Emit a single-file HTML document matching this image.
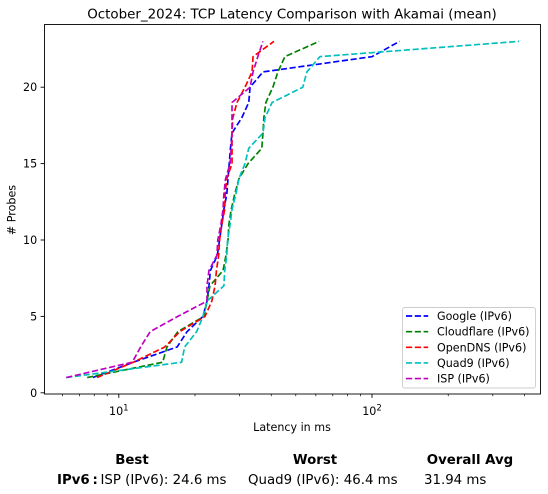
<!DOCTYPE html>
<html lang="en">
<head>
<meta charset="utf-8">
<title>October_2024: TCP Latency Comparison with Akamai (mean)</title>
<style>
html,body{margin:0;padding:0;background:#fff;}
svg{display:block;font-family:"DejaVu Sans","Liberation Sans",sans-serif;fill:#000;}
</style>
</head>
<body>
<svg id="chart" xmlns="http://www.w3.org/2000/svg" width="548" height="494" viewBox="0 0 548 494">
  <rect width="548" height="494" fill="#fff"/>
  <text x="292" y="18.5" text-anchor="middle" font-size="13.42">October_2024: TCP Latency Comparison with Akamai (mean)</text>
  <g id="series-layer"></g>
  <g id="axis-layer"></g>
  <rect x="44.5" y="24.5" width="496" height="369.5" fill="none" stroke="#000" stroke-width="0.9"/>
  <text x="292" y="431" text-anchor="middle" font-size="11.11">Latency in ms</text>
  <text transform="translate(15.5 210) rotate(-90)" text-anchor="middle" font-size="11.11"># Probes</text>
  <g id="legend-layer">
    <rect x="402.5" y="307.5" width="133" height="80.5" rx="2.2" fill="#fff" fill-opacity="0.8" stroke="#ccc" stroke-width="0.9"/>
  </g>
  <g font-size="13.33">
    <text x="132" y="464" text-anchor="middle" font-weight="bold">Best</text>
    <text x="315" y="464" text-anchor="middle" font-weight="bold">Worst</text>
    <text x="470" y="464" text-anchor="middle" font-weight="bold">Overall Avg</text>
    <text x="57" y="484" font-weight="bold">IPv6</text>
    <text x="92.5" y="484" font-weight="bold">:</text>
    <text x="100.5" y="484">ISP (IPv6): 24.6 ms</text>
    <text x="248" y="484">Quad9 (IPv6): 46.4 ms</text>
    <text x="424" y="484">31.94 ms</text>
  </g>
</svg>
<script>
const probeCounts = [1,2,3,4,5,6,7,8,9,10,11,12,13,14,15,16,17,18,19,20,21,22,23];
const googleValues = [7.9,11.4,17,18.6,21.5,22.3,22.7,23,24.5,25,25.5,26,26.7,27,27.3,27.6,28,30.6,32.6,33,37.1,100,128.5];
const cloudflareValues = [7.5,14.9,15.5,17.1,21.7,22.3,22.9,25.8,26.5,27,27.2,27.8,28.7,29.8,32.4,36.7,37.1,37.4,38.1,40.6,42.5,45.3,61.8];
const openDnsValues = [8.2,11.4,15.2,17.4,21.9,23.3,24,24.3,24.8,25,25.5,26.2,26.3,26.7,28,28,28,28.2,29.3,31.5,33.6,33.9,41];
const quad9Values = [6.2,17.7,18.2,20.3,21.5,22.3,26,26.2,26.7,26.9,27.5,28,29,29.8,31.5,32.6,37.1,37.8,40.3,53.3,55.3,62.3,381];
const ispValues = [6.2,11.3,12.2,13.3,17.1,22.3,22.3,22.7,24.4,24.6,25.3,25.8,26,26.4,27.5,27.8,28,28,28,33,33.9,35.4,37.1];
const seriesNames = ["Google (IPv6)","Cloudflare (IPv6)","OpenDNS (IPv6)","Quad9 (IPv6)","ISP (IPv6)"];
const seriesSlugs = ["google","cloudflare","opendns","quad9","isp"];
const seriesValues = [googleValues,cloudflareValues,openDnsValues,quad9Values,ispValues];
const seriesColors = ["#0000ff","#008000","#ff0000","#00bfbf","#bf00bf"];
const yTicks = [0,5,10,15,20];
const xMajorTicks = [10,100];
const xMajorExponents = ["1","2"];
const xMinorTicks = [6,7,8,9,20,30,40,50,60,70,80,90,200,300,400];

const NS = "http://www.w3.org/2000/svg";
function xScale(v){ return 118.8 + 253.2 * Math.log10(v / 10); }
function yScale(v){ return 392.8 - 15.28 * v; }
function make(tag, parent, attrs){
  const el = document.createElementNS(NS, tag);
  for (const k in attrs) el.setAttribute(k, attrs[k]);
  parent.appendChild(el);
  return el;
}
const seriesLayer = document.getElementById("series-layer");
const axisLayer = document.getElementById("axis-layer");
const legendLayer = document.getElementById("legend-layer");
const DASH = "6.15 2.65";

seriesValues.forEach(function(values, i){
  const pts = values.map(function(v, j){ return xScale(v).toFixed(2) + "," + yScale(probeCounts[j]).toFixed(2); }).join(" ");
  const line = make("polyline", seriesLayer, {points: pts, fill: "none", stroke: seriesColors[i], "stroke-width": 1.67, "stroke-dasharray": DASH, "stroke-linejoin": "round"});
  
  
});

yTicks.forEach(function(t){
  const y = yScale(t);
  const mark = make("line", axisLayer, {x1: 44.5, x2: 40.6, y1: y, y2: y, stroke: "#000", "stroke-width": 0.9});
  
  
  const label = make("text", axisLayer, {x: 37.2, y: y + 4, "text-anchor": "end", "font-size": 11.11});
  
  
  label.textContent = String(t);
});

xMinorTicks.forEach(function(t){
  const x = xScale(t);
  const mark = make("line", axisLayer, {x1: x, x2: x, y1: 394, y2: 396.2, stroke: "#000", "stroke-width": 0.7});
  
  
});

xMajorTicks.forEach(function(t, i){
  const x = xScale(t);
  const mark = make("line", axisLayer, {x1: x, x2: x, y1: 394, y2: 397.9, stroke: "#000", "stroke-width": 0.9});
  
  
  const label = make("text", axisLayer, {x: x, y: 415, "text-anchor": "middle", "font-size": 11.11});
  
  
  label.textContent = "10";
  const sup = make("tspan", label, {dy: -4.5, "font-size": 8.5});
  
  
  sup.textContent = xMajorExponents[i];
});

seriesNames.forEach(function(name, i){
  const y = 316 + i * 15.65;
  const sample = make("line", legendLayer, {x1: 406, x2: 428.2, y1: y, y2: y, stroke: seriesColors[i], "stroke-width": 1.67, "stroke-dasharray": DASH});
  
  
  const label = make("text", legendLayer, {x: 437, y: y + 4, "font-size": 11.11});
  
  
  label.textContent = name;
});
</script>
</body>
</html>
